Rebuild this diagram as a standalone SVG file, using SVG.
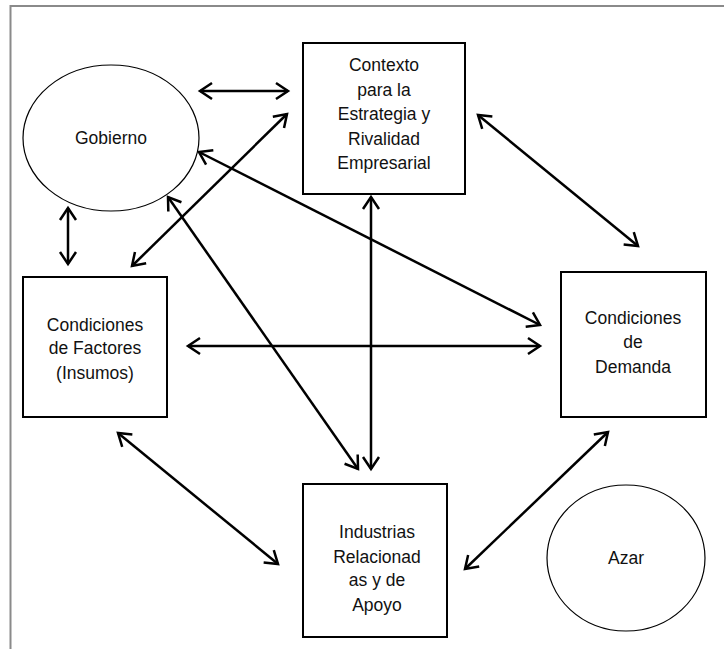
<svg xmlns="http://www.w3.org/2000/svg" width="724" height="649" viewBox="0 0 724 649">
<style>
.box{fill:#fff;stroke:#000;stroke-width:2}
.ell{fill:#fff;stroke:#000;stroke-width:1.2}
.t{font-family:"Liberation Sans",Arial,sans-serif;font-size:17.5px;fill:#111;text-anchor:middle}
.c{stroke:#000;stroke-width:2.5;fill:none;marker-start:url(#ah);marker-end:url(#ah)}
</style>
<defs>
<marker id="ah" markerUnits="userSpaceOnUse" markerWidth="30" markerHeight="30" viewBox="-15 -15 30 30" refX="0" refY="0" orient="auto-start-reverse">
<path d="M-12,-8 L0,0 L-12,8" fill="none" stroke="#000" stroke-width="2.5"/>
</marker>
</defs>
<rect width="724" height="649" fill="#fff"/>
<path d="M10.5,649 V6 H724" fill="none" stroke="#8a8a8a" stroke-width="2"/>
<g id="gobierno">
<ellipse class="ell" cx="111" cy="138" rx="88" ry="73"/>
<text class="t" x="111" y="144">Gobierno</text>
</g>
<g id="azar">
<ellipse class="ell" cx="626" cy="558" rx="79" ry="73"/>
<text class="t" x="626" y="564">Azar</text>
</g>
<g id="contexto">
<rect class="box" x="303" y="43" width="162" height="151"/>
<text class="t" x="384" y="71">Contexto</text>
<text class="t" x="384" y="96">para la</text>
<text class="t" x="384" y="120">Estrategia y</text>
<text class="t" x="384" y="145">Rivalidad</text>
<text class="t" x="384" y="169">Empresarial</text>
</g>
<g id="factores">
<rect class="box" x="23" y="277" width="144" height="140"/>
<text class="t" x="95" y="331">Condiciones</text>
<text class="t" x="95" y="354">de Factores</text>
<text class="t" x="95" y="379">(Insumos)</text>
</g>
<g id="demanda">
<rect class="box" x="561" y="272" width="145" height="145"/>
<text class="t" x="633" y="324">Condiciones</text>
<text class="t" x="633" y="348">de</text>
<text class="t" x="633" y="373">Demanda</text>
</g>
<g id="industrias">
<rect class="box" x="303" y="484" width="144" height="153"/>
<text class="t" x="377" y="538">Industrias</text>
<text class="t" x="377" y="563">Relacionad</text>
<text class="t" x="377" y="586">as y de</text>
<text class="t" x="377" y="611">Apoyo</text>
</g>
<g id="connectors">
<line class="c" x1="200" y1="91" x2="288" y2="91"/>
<line class="c" x1="478" y1="115" x2="638" y2="246"/>
<line class="c" x1="118" y1="433" x2="278" y2="564"/>
<line class="c" x1="608" y1="432" x2="465" y2="569"/>
<line class="c" x1="68" y1="208" x2="68" y2="264"/>
<line class="c" x1="287" y1="114" x2="132" y2="266"/>
<line class="c" x1="199" y1="152" x2="540" y2="325"/>
<line class="c" x1="168" y1="197" x2="358" y2="469"/>
<line class="c" x1="371" y1="197" x2="371" y2="469"/>
<line class="c" x1="188" y1="346" x2="540" y2="346"/>
</g>
</svg>
